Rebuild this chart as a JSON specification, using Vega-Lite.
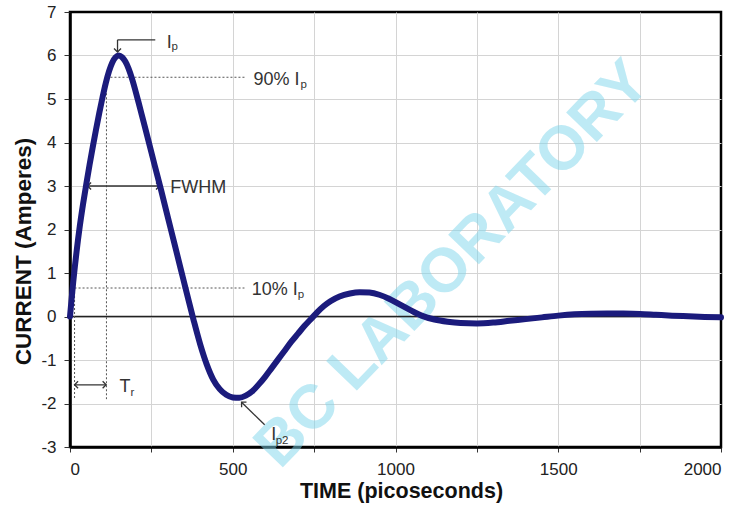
{
  "$schema": "https://vega.github.io/schema/vega-lite/v6.json",
  "width": 651,
  "height": 435,
  "autosize": "none",
  "padding": {"left": 70, "top": 12, "right": 22, "bottom": 63},
  "background": "white",
  "config": {
    "font": "Liberation Sans",
    "view": {"stroke": "black", "strokeWidth": 2.5},
    "axis": {
      "domainColor": "black",
      "domainWidth": 2.5,
      "gridWidth": 1,
      "tickColor": "#333",
      "labelColor": "#222",
      "labelFont": "Liberation Sans",
      "titleFont": "Liberation Sans",
      "titleColor": "#111",
      "titleFontWeight": "bold"
    }
  },
  "datasets": {
    "curve": [
      {"x": 0, "y": 0}, {"x": 5, "y": 0.41}, {"x": 10, "y": 0.8}, {"x": 15, "y": 1.15},
      {"x": 20, "y": 1.48}, {"x": 30, "y": 2.07}, {"x": 40, "y": 2.58}, {"x": 50, "y": 3.04},
      {"x": 60, "y": 3.48}, {"x": 70, "y": 3.9}, {"x": 80, "y": 4.3}, {"x": 90, "y": 4.68},
      {"x": 100, "y": 5.04}, {"x": 110, "y": 5.37}, {"x": 120, "y": 5.64}, {"x": 130, "y": 5.84},
      {"x": 140, "y": 5.96}, {"x": 150, "y": 6.0}, {"x": 160, "y": 5.96}, {"x": 170, "y": 5.86},
      {"x": 180, "y": 5.7}, {"x": 190, "y": 5.48}, {"x": 200, "y": 5.22}, {"x": 210, "y": 4.94},
      {"x": 220, "y": 4.65}, {"x": 230, "y": 4.36}, {"x": 240, "y": 4.07}, {"x": 260, "y": 3.48},
      {"x": 280, "y": 2.9}, {"x": 300, "y": 2.3}, {"x": 320, "y": 1.7}, {"x": 340, "y": 1.1},
      {"x": 360, "y": 0.5}, {"x": 380, "y": -0.09}, {"x": 400, "y": -0.64}, {"x": 420, "y": -1.1},
      {"x": 440, "y": -1.45}, {"x": 460, "y": -1.67}, {"x": 480, "y": -1.8}, {"x": 500, "y": -1.86},
      {"x": 520, "y": -1.87}, {"x": 540, "y": -1.82}, {"x": 560, "y": -1.72}, {"x": 580, "y": -1.56},
      {"x": 600, "y": -1.38}, {"x": 620, "y": -1.18}, {"x": 640, "y": -0.98}, {"x": 660, "y": -0.78},
      {"x": 680, "y": -0.58}, {"x": 700, "y": -0.4}, {"x": 720, "y": -0.22}, {"x": 745, "y": -0.02},
      {"x": 760, "y": 0.1}, {"x": 780, "y": 0.24}, {"x": 800, "y": 0.35}, {"x": 828, "y": 0.46},
      {"x": 860, "y": 0.53}, {"x": 890, "y": 0.56}, {"x": 920, "y": 0.55}, {"x": 950, "y": 0.5},
      {"x": 980, "y": 0.41}, {"x": 1010, "y": 0.29}, {"x": 1040, "y": 0.17}, {"x": 1080, "y": 0.02},
      {"x": 1120, "y": -0.07}, {"x": 1160, "y": -0.12}, {"x": 1200, "y": -0.15}, {"x": 1250, "y": -0.16},
      {"x": 1300, "y": -0.14}, {"x": 1350, "y": -0.1}, {"x": 1400, "y": -0.06}, {"x": 1450, "y": -0.02},
      {"x": 1500, "y": 0.02}, {"x": 1550, "y": 0.05}, {"x": 1600, "y": 0.065}, {"x": 1650, "y": 0.07},
      {"x": 1700, "y": 0.068}, {"x": 1750, "y": 0.06}, {"x": 1800, "y": 0.04}, {"x": 1850, "y": 0.02},
      {"x": 1900, "y": 0.005}, {"x": 1950, "y": -0.01}, {"x": 2000, "y": -0.02}
    ],
    "watermark": [{"x": 1175, "y": 1.2, "label": "BC LABORATORY"}],
    "zeroline": [{"x": 0, "x2": 2000, "y": 0, "y2": 0}],
    "dotted": [
      {"x": 112, "x2": 536, "y": 5.5, "y2": 5.5},
      {"x": 14, "x2": 536, "y": 0.655, "y2": 0.655},
      {"x": 14, "x2": 14, "y": 0.655, "y2": -1.9},
      {"x": 112, "x2": 112, "y": 5.5, "y2": -1.9}
    ],
    "solid": [
      {"x": 146, "x2": 146, "y": 6.08, "y2": 6.36},
      {"x": 146, "x2": 262, "y": 6.36, "y2": 6.36},
      {"x": 54, "x2": 275, "y": 3.0, "y2": 3.0},
      {"x": 14, "x2": 111, "y": -1.57, "y2": -1.57},
      {"x": 527, "x2": 598, "y": -1.97, "y2": -2.49}
    ],
    "headRight": [{"x": 275, "y": 3.0}, {"x": 111, "y": -1.57}],
    "headLeft": [{"x": 54, "y": 3.0}, {"x": 14, "y": -1.57}],
    "headDown": [{"x": 146, "y": 6.08}],
    "headDiag": [{"x": 527, "y": -1.97}],
    "labels": [
      {"x": 297, "y": 6.17, "label": "I"},
      {"x": 564, "y": 5.32, "label": "90% I"},
      {"x": 558, "y": 0.49, "label": "10% I"},
      {"x": 308, "y": 2.84, "label": "FWHM"},
      {"x": 152, "y": -1.74, "label": "T"},
      {"x": 618, "y": -2.83, "label": "I"}
    ],
    "subs": [
      {"x": 312, "y": 6.12, "label": "p"},
      {"x": 708, "y": 5.25, "label": "p"},
      {"x": 700, "y": 0.42, "label": "p"},
      {"x": 186, "y": -1.83, "label": "r"},
      {"x": 632, "y": -2.92, "label": "p2"}
    ]
  },
  "encoding": {
    "x": {
      "field": "x",
      "type": "quantitative",
      "scale": {"domain": [0, 2000], "nice": false, "zero": false},
      "axis": {
        "title": "TIME (picoseconds)",
        "values": [0, 250, 500, 750, 1000, 1250, 1500, 1750, 2000],
        "labelExpr": "datum.value % 500 === 0 ? '' + datum.value : ''",
        "labelFontSize": 17,
        "labelPadding": 9,
        "tickSize": 5,
        "titleFontSize": 21.5,
        "titleBaseline": "alphabetic",
        "titleX": 331,
        "titleY": 50,
        "grid": true,
        "gridColor": {"condition": {"test": "datum.value === 0 || datum.value === 2000", "value": "transparent"}, "value": "#d4d4d4"}
      }
    },
    "y": {
      "field": "y",
      "type": "quantitative",
      "scale": {"domain": [-3, 7], "nice": false, "zero": false},
      "axis": {
        "title": "CURRENT (Amperes)",
        "values": [-3, -2, -1, 0, 1, 2, 3, 4, 5, 6, 7],
        "labelExpr": "'' + datum.value",
        "labelFontSize": 17,
        "labelPadding": 8,
        "tickSize": 6,
        "titleFontSize": 22.5,
        "titleAngle": -90,
        "titleBaseline": "alphabetic",
        "titleAlign": "center",
        "titleX": -40,
        "titleY": 239,
        "grid": true,
        "gridColor": {"condition": {"test": "datum.value === 7 || datum.value === -3", "value": "transparent"}, "value": "#d4d4d4"}
      }
    }
  },
  "layer": [
    {
      "data": {"name": "watermark"},
      "mark": {"type": "text", "font": "Liberation Sans", "fontWeight": "bold", "fontSize": 62, "angle": -46, "align": "center", "baseline": "middle", "color": "#7fd6ec", "opacity": 0.5},
      "encoding": {"text": {"field": "label"}}
    },
    {
      "data": {"name": "zeroline"},
      "mark": {"type": "rule", "color": "#222", "strokeWidth": 1.6},
      "encoding": {"x2": {"field": "x2"}, "y2": {"field": "y2"}}
    },
    {
      "data": {"name": "dotted"},
      "mark": {"type": "rule", "color": "#555", "strokeWidth": 1, "strokeDash": [2, 2]},
      "encoding": {"x2": {"field": "x2"}, "y2": {"field": "y2"}}
    },
    {
      "data": {"name": "solid"},
      "mark": {"type": "rule", "color": "#333", "strokeWidth": 1.3},
      "encoding": {"x2": {"field": "x2"}, "y2": {"field": "y2"}}
    },
    {
      "data": {"name": "headRight"},
      "mark": {"type": "point", "shape": "M -1 -1 L 0 0 L -1 1", "filled": false, "stroke": "#333", "strokeWidth": 1.3, "size": 49, "angle": 0, "opacity": 1},
      "encoding": {}
    },
    {
      "data": {"name": "headLeft"},
      "mark": {"type": "point", "shape": "M -1 -1 L 0 0 L -1 1", "filled": false, "stroke": "#333", "strokeWidth": 1.3, "size": 49, "angle": 180, "opacity": 1},
      "encoding": {}
    },
    {
      "data": {"name": "headDown"},
      "mark": {"type": "point", "shape": "M -1 -1 L 0 0 L -1 1", "filled": false, "stroke": "#333", "strokeWidth": 1.3, "size": 49, "angle": 90, "opacity": 1},
      "encoding": {}
    },
    {
      "data": {"name": "headDiag"},
      "mark": {"type": "point", "shape": "M -1 -1 L 0 0 L -1 1", "filled": false, "stroke": "#333", "strokeWidth": 1.3, "size": 49, "angle": 224, "opacity": 1},
      "encoding": {}
    },
    {
      "data": {"name": "curve"},
      "mark": {"type": "line", "color": "#1b1b7c", "strokeWidth": 6, "interpolate": "monotone", "strokeCap": "round", "strokeJoin": "round"},
      "encoding": {}
    },
    {
      "data": {"name": "labels"},
      "mark": {"type": "text", "font": "Liberation Sans", "fontSize": 18, "align": "left", "baseline": "alphabetic", "color": "#333"},
      "encoding": {"text": {"field": "label"}}
    },
    {
      "data": {"name": "subs"},
      "mark": {"type": "text", "font": "Liberation Sans", "fontSize": 11.5, "align": "left", "baseline": "alphabetic", "color": "#333"},
      "encoding": {"text": {"field": "label"}}
    }
  ]
}
